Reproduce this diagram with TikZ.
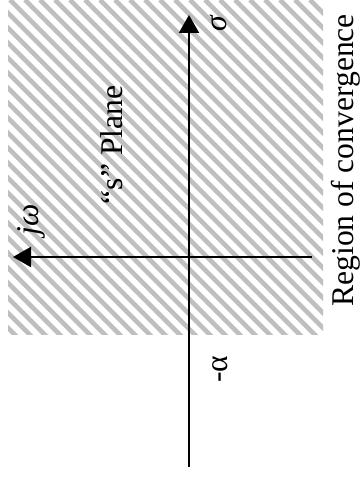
\documentclass[tikz,border=0pt]{standalone}
\usepackage{fontspec}
\setmainfont{Liberation Serif}
\usetikzlibrary{arrows.meta}

\tikzset{
  axis/.style={line width=1pt, -{Triangle[width=10pt,length=9pt]}},
  hatch/.style={gray!50, line width=2.3pt},
  lab/.style={rotate=90, inner sep=0pt, font=\fontsize{15.8}{18}\selectfont}
}

\begin{document}
\begin{tikzpicture}[x=0.5pt, y=0.5pt]
  \useasboundingbox (0,0) rectangle (359,480);

  % region of convergence, hatched
  \begin{scope}
    \clip (8,145) rectangle (323,480);
    \foreach \i in {0,...,46} {
      \draw[hatch] ({-335+15*\i},480) -- ++(340,-340);
    }
  \end{scope}

  % axes
  \coordinate (vbot) at (189,13);
  \coordinate (vtop) at (189,465);
  \coordinate (hright) at (312,223);
  \coordinate (hleft) at (13,223);
  \draw[axis] (vbot) -- (vtop);
  \draw[axis] (hright) -- (hleft);

  % labels
  \node[lab] (sigma) at (219,457) {\textit{σ}};
  \node[lab] (jw) at (31,260) {\textit{jω}};
  \node[lab] (plane) at (112,335) {“s” Plane};
  \node[lab] (alpha) at (220,111) {-α};
  \node[lab, anchor=base west] (roc) at (353,173) {Region of convergence};
\end{tikzpicture}
\end{document}
